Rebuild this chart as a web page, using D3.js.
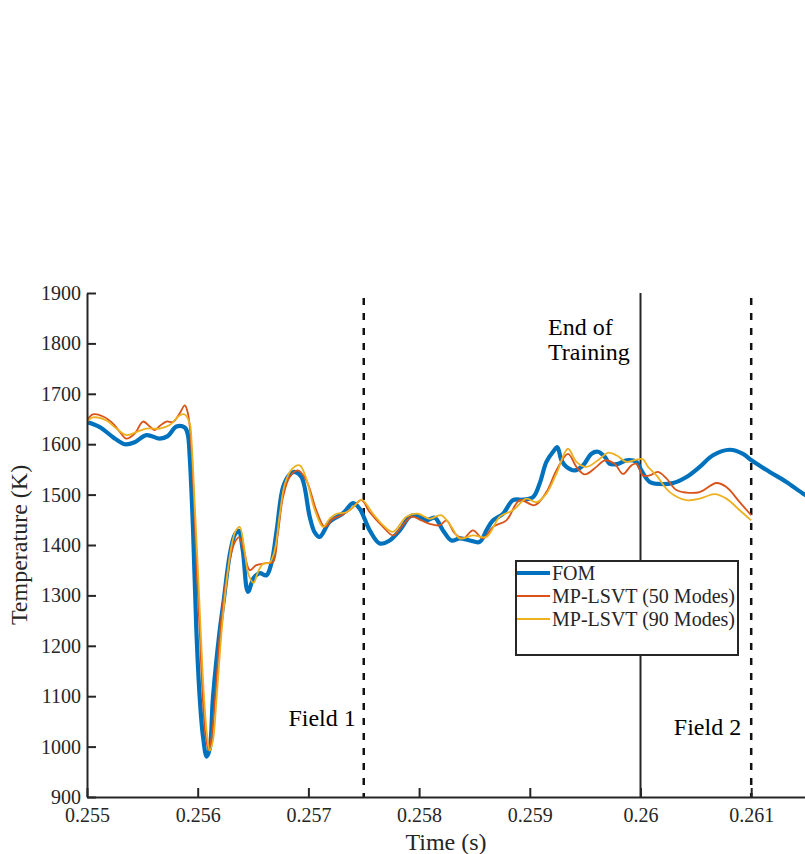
<!DOCTYPE html>
<html>
<head>
<meta charset="utf-8">
<script src="https://cdn.jsdelivr.net/npm/d3@7"></script>
<style>
  body { margin: 0; background: #fff; }
  text { font-family: "Liberation Serif", "DejaVu Serif", serif; }
</style>
</head>
<body>
<svg id="chart"></svg>
<script>
// time (s) and temperature (K)
var fomTime = [0.255000, 0.255115, 0.255235, 0.255341, 0.255431, 0.255537, 0.255657, 0.255729, 0.255808, 0.255883,
    0.255910, 0.255928, 0.255958, 0.255988, 0.256018, 0.256048, 0.256081, 0.256108, 0.256138, 0.256199,
    0.256235, 0.256289, 0.256334, 0.256370, 0.256407, 0.256454, 0.256506, 0.256560, 0.256621, 0.256666,
    0.256714, 0.256771, 0.256831, 0.256876, 0.256937, 0.257012, 0.257057, 0.257102, 0.257192, 0.257313,
    0.257403, 0.257463, 0.257554, 0.257644, 0.257734, 0.257825, 0.257915, 0.257976, 0.258066, 0.258141,
    0.258216, 0.258292, 0.258367, 0.258457, 0.258547, 0.258608, 0.258668, 0.258758, 0.258848, 0.258939,
    0.259029, 0.259089, 0.259150, 0.259210, 0.259249, 0.259286, 0.259331, 0.259406, 0.259481, 0.259557,
    0.259616, 0.259677, 0.259722, 0.259797, 0.259873, 0.259963, 0.260008, 0.260083, 0.260173, 0.260294,
    0.260415, 0.260535, 0.260655, 0.260806, 0.260926, 0.261002, 0.261167, 0.261318, 0.261468, 0.261528]
var fomTemp = [1644, 1634, 1614, 1600, 1604, 1618, 1611, 1616, 1635, 1633,
    1620, 1575, 1430, 1231, 1098, 1020, 980, 995, 1098, 1231,
    1290, 1380, 1420, 1428, 1390, 1307, 1335, 1344, 1340, 1364,
    1430, 1515, 1540, 1545, 1535, 1456, 1425, 1416, 1446, 1463,
    1483, 1472, 1429, 1403, 1409, 1429, 1456, 1459, 1449, 1454,
    1429, 1409, 1413, 1409, 1406, 1429, 1449, 1462, 1489, 1490,
    1495, 1522, 1565, 1585, 1594, 1568, 1555, 1548, 1558, 1581,
    1585, 1575, 1561, 1561, 1568, 1565, 1548, 1525, 1521, 1523,
    1535, 1555, 1578, 1589, 1581, 1568, 1545, 1525, 1502, 1495]

var m50Time = [0.255000, 0.255054, 0.255145, 0.255235, 0.255295, 0.255356, 0.255431, 0.255506, 0.255566, 0.255612,
    0.255657, 0.255717, 0.255777, 0.255837, 0.255883, 0.255912, 0.255937, 0.255964, 0.255991, 0.256018,
    0.256045, 0.256072, 0.256099, 0.256126, 0.256163, 0.256203, 0.256244, 0.256289, 0.256334, 0.256373,
    0.256416, 0.256470, 0.256530, 0.256621, 0.256680, 0.256723, 0.256771, 0.256831, 0.256906, 0.256982,
    0.257072, 0.257147, 0.257222, 0.257298, 0.257388, 0.257479, 0.257554, 0.257674, 0.257764, 0.257840,
    0.257930, 0.258021, 0.258096, 0.258186, 0.258247, 0.258322, 0.258397, 0.258487, 0.258577, 0.258668,
    0.258789, 0.258909, 0.259044, 0.259150, 0.259240, 0.259345, 0.259421, 0.259496, 0.259602, 0.259677,
    0.259767, 0.259842, 0.259918, 0.259963, 0.260023, 0.260083, 0.260158, 0.260234, 0.260324, 0.260415,
    0.260535, 0.260686, 0.260776, 0.260896, 0.261000]
var m50Temp = [1647, 1659, 1655, 1641, 1625, 1611, 1621, 1645, 1635, 1628,
    1636, 1645, 1644, 1661, 1677, 1661, 1610, 1500, 1350, 1231,
    1100, 1020, 993, 1020, 1110, 1231, 1310, 1370, 1405, 1415,
    1390, 1350, 1360, 1364, 1366, 1420, 1495, 1535, 1548, 1528,
    1469, 1436, 1452, 1459, 1472, 1489, 1465, 1436, 1419, 1436,
    1456, 1449, 1442, 1439, 1449, 1423, 1413, 1429, 1413, 1436,
    1449, 1489, 1479, 1505, 1548, 1581, 1555, 1540, 1555, 1568,
    1561, 1541, 1558, 1561, 1538, 1538, 1545, 1532, 1509, 1504,
    1505, 1523, 1515, 1485, 1459]

var m90Time = [0.255000, 0.255054, 0.255175, 0.255266, 0.255356, 0.255446, 0.255537, 0.255657, 0.255747, 0.255837,
    0.255883, 0.255928, 0.255946, 0.255973, 0.256000, 0.256027, 0.256054, 0.256081, 0.256108, 0.256136,
    0.256172, 0.256217, 0.256262, 0.256307, 0.256343, 0.256379, 0.256416, 0.256461, 0.256506, 0.256542,
    0.256590, 0.256650, 0.256696, 0.256741, 0.256786, 0.256849, 0.256921, 0.256976, 0.257057, 0.257132,
    0.257192, 0.257253, 0.257343, 0.257418, 0.257479, 0.257584, 0.257671, 0.257764, 0.257885, 0.257990,
    0.258096, 0.258201, 0.258292, 0.258367, 0.258487, 0.258608, 0.258728, 0.258848, 0.258969, 0.259060,
    0.259150, 0.259240, 0.259345, 0.259421, 0.259511, 0.259616, 0.259706, 0.259782, 0.259873, 0.259977,
    0.260023, 0.260068, 0.260144, 0.260264, 0.260415, 0.260535, 0.260670, 0.260776, 0.260896, 0.261000]
var m90Temp = [1644, 1653, 1647, 1631, 1618, 1624, 1631, 1631, 1638, 1657,
    1659, 1641, 1600, 1480, 1360, 1231, 1110, 1030, 992, 1010,
    1100, 1231, 1330, 1400, 1428, 1436, 1400, 1340, 1325, 1345,
    1363, 1365, 1390, 1460, 1520, 1550, 1558, 1535, 1470, 1436,
    1452, 1462, 1465, 1478, 1490, 1462, 1440, 1426, 1456, 1462,
    1452, 1459, 1436, 1413, 1419, 1416, 1456, 1469, 1492, 1485,
    1502, 1541, 1591, 1565, 1555, 1568, 1583, 1578, 1565, 1570,
    1570, 1555, 1538, 1505, 1489, 1492, 1501, 1492, 1469, 1449]

var seriesNames = ["FOM", "MP-LSVT (50 Modes)", "MP-LSVT (90 Modes)"]
var seriesColors = ["#0072BD", "#D95319", "#EDB120"]
var xTicks = [0.255, 0.256, 0.257, 0.258, 0.259, 0.26, 0.261]
var xTickLabels = ["0.255", "0.256", "0.257", "0.258", "0.259", "0.26", "0.261"]
var yTicks = [900, 1000, 1100, 1200, 1300, 1400, 1500, 1600, 1700, 1800, 1900]
var fieldLines = [0.2575, 0.261]
var trainingEnd = 0.26

var dimensions = {
    width: 805,
    height: 854,
    margin: { top: 293, bottom: 57, left: 87, right: 0 }
}

var svg = d3.select("#chart")
    .attr("width", dimensions.width)
    .attr("height", dimensions.height)

var xScale = d3.scaleLinear()
    .domain([0.255, 0.2615])
    .range([dimensions.margin.left, dimensions.margin.left + 110.7 * 6.5])

var yScale = d3.scaleLinear()
    .domain([900, 1900])
    .range([dimensions.height - dimensions.margin.bottom, dimensions.margin.top])

svg.append("clipPath").attr("id", "plotclip")
    .append("rect")
    .attr("x", dimensions.margin.left)
    .attr("y", dimensions.margin.top - 5)
    .attr("width", dimensions.width - dimensions.margin.left)
    .attr("height", dimensions.height - dimensions.margin.bottom - dimensions.margin.top + 5)

var plot = svg.append("g").attr("clip-path", "url(#plotclip)")

// marker lines
var yBottom = yScale(900)
fieldLines.forEach(function (t) {
    plot.append("line")
        .attr("x1", xScale(t)).attr("x2", xScale(t))
        .attr("y1", yScale(1890)).attr("y2", yBottom)
        .attr("stroke", "#111")
        .attr("stroke-width", 2.5)
        .attr("stroke-dasharray", "7,8")
})
plot.append("line")
    .attr("x1", xScale(trainingEnd)).attr("x2", xScale(trainingEnd))
    .attr("y1", yScale(1900)).attr("y2", yBottom)
    .attr("stroke", "#262626")
    .attr("stroke-width", 2)

var line = d3.line()
    .x(d => xScale(d[0]))
    .y(d => yScale(d[1]))
    .curve(d3.curveCatmullRom.alpha(0.5))

var series = [
    d3.zip(fomTime, fomTemp),
    d3.zip(m50Time, m50Temp),
    d3.zip(m90Time, m90Temp)
]
var widths = [4.2, 1.8, 1.8]

series.forEach(function (s, i) {
    plot.append("path")
        .datum(s)
        .attr("fill", "none")
        .attr("stroke", seriesColors[i])
        .attr("stroke-width", widths[i])
        .attr("stroke-linejoin", "round")
        .attr("d", line)
})

// axes
var xAxis = d3.axisBottom(xScale)
    .tickValues(xTicks)
    .tickFormat((d, i) => xTickLabels[i])
    .tickSizeInner(-9)
    .tickSizeOuter(0)
    .tickPadding(11)

var yAxis = d3.axisLeft(yScale)
    .tickValues(yTicks)
    .tickFormat(d3.format("d"))
    .tickSizeInner(-9)
    .tickSizeOuter(0)
    .tickPadding(6)

var gx = svg.append("g")
    .attr("transform", "translate(0," + yBottom + ")")
    .call(xAxis)
var gy = svg.append("g")
    .attr("transform", "translate(" + dimensions.margin.left + ",0)")
    .call(yAxis)

;[gx, gy].forEach(function (g) {
    g.select(".domain").attr("stroke", "#262626").attr("stroke-width", 2)
    g.selectAll(".tick line").attr("stroke", "#262626").attr("stroke-width", 2)
    g.selectAll(".tick text")
        .attr("fill", "#262626")
        .attr("font-size", "20px")
        .attr("font-family", "Liberation Serif")
})

svg.append("text")
    .attr("x", 446)
    .attr("y", 850)
    .attr("text-anchor", "middle")
    .attr("font-size", "24px")
    .attr("fill", "#262626")
    .text("Time (s)")

svg.append("text")
    .attr("transform", "translate(27," + yScale(1400) + ") rotate(-90)")
    .attr("text-anchor", "middle")
    .attr("font-size", "24px")
    .attr("fill", "#262626")
    .text("Temperature (K)")

// annotations
svg.append("text")
    .attr("x", xScale(0.2575) - 8).attr("y", 726)
    .attr("text-anchor", "end")
    .attr("font-size", "24px")
    .text("Field 1")
svg.append("text")
    .attr("x", xScale(0.261) - 10).attr("y", 735)
    .attr("text-anchor", "end")
    .attr("font-size", "24px")
    .text("Field 2")
svg.append("text")
    .attr("x", 548).attr("y", 335)
    .attr("font-size", "24px")
    .text("End of")
svg.append("text")
    .attr("x", 548).attr("y", 360)
    .attr("font-size", "24px")
    .text("Training")

// legend
var legend = svg.append("g").attr("transform", "translate(516,561)")
legend.append("rect")
    .attr("width", 222).attr("height", 94)
    .attr("fill", "#fff")
    .attr("stroke", "#262626")
    .attr("stroke-width", 2)

seriesNames.forEach(function (name, i) {
    var y = 12 + i * 23
    legend.append("line")
        .attr("x1", 1).attr("x2", 34)
        .attr("y1", y).attr("y2", y)
        .attr("stroke", seriesColors[i])
        .attr("stroke-width", widths[i])
    legend.append("text")
        .attr("x", 36).attr("y", y + 7)
        .attr("font-size", "20px")
        .attr("fill", "#262626")
        .text(name)
})
</script>
</body>
</html>
